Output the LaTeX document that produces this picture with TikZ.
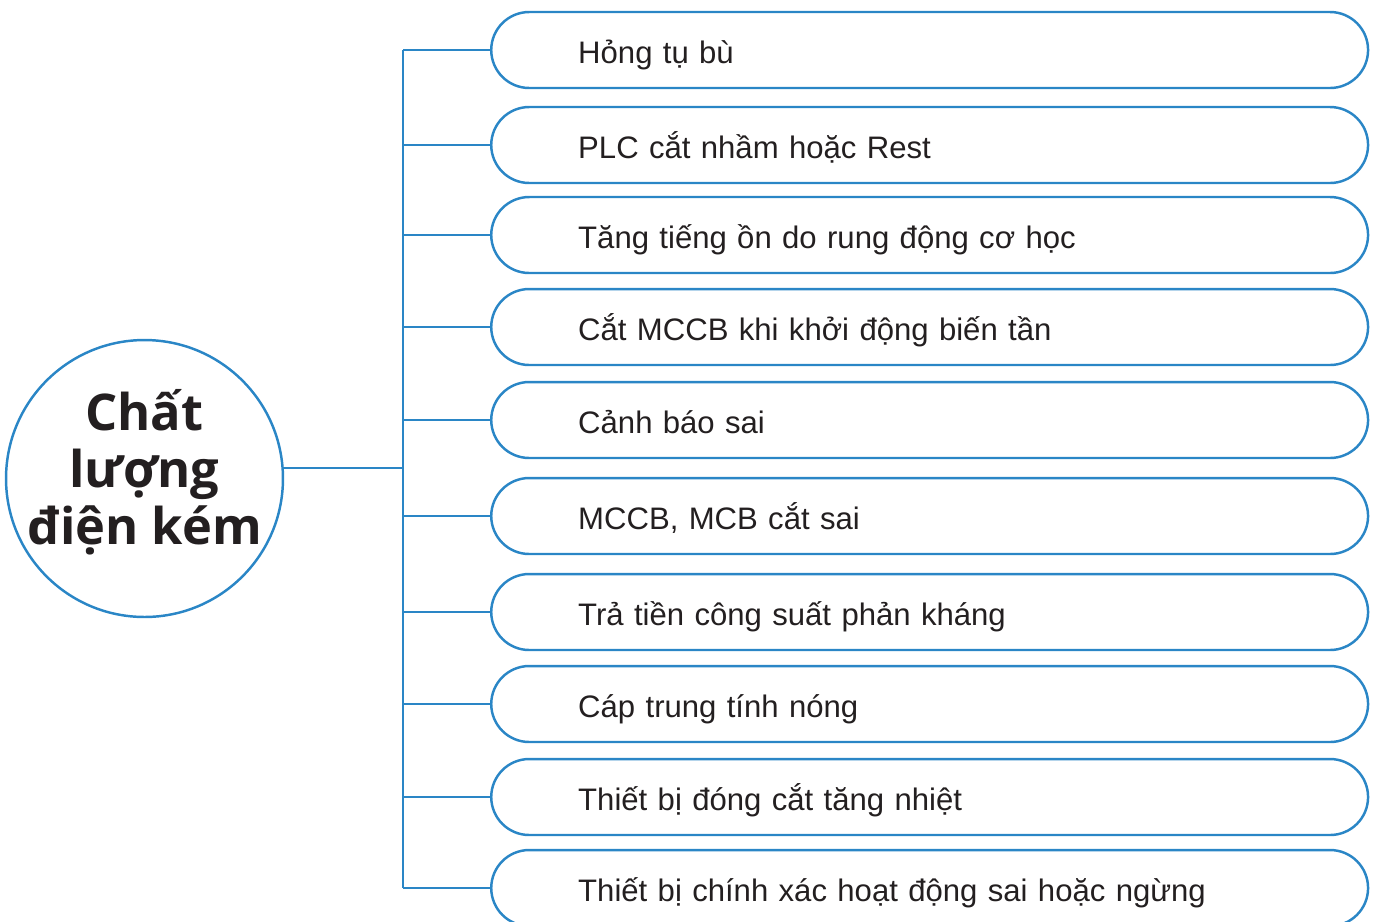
\documentclass[tikz,border=0pt]{standalone}
\usepackage{fontspec}
\setmainfont{Liberation Sans}
\newfontfamily\hubfont{Open Sans}
\usepackage{tikz}
\usetikzlibrary{positioning,calc}
\definecolor{lineblue}{RGB}{42,134,198}
\definecolor{inkdark}{RGB}{35,31,32}

\begin{document}
\begin{tikzpicture}[x=0.02cm,y=-0.02cm,
                    line width=1.4pt,
                    hub node/.style={circle,draw=lineblue,minimum size=5.54cm,inner sep=0pt},
                    hub text/.style={align=center,text=inkdark,text depth=0.45cm,inner sep=0pt,
                                     font=\hubfont\bfseries\fontsize{28.8}{32.4}\selectfont},
                    item node/.style={draw=lineblue,rounded corners=0.76cm,anchor=west,
                                      minimum height=1.52cm,inner xsep=1.74cm,inner ysep=0pt,
                                      text width=14.06cm,text height=0.7cm,text depth=0.16cm,
                                      align=left,text=inkdark,
                                      font=\fontsize{17.7}{21}\selectfont}
                   ]
  \useasboundingbox (0,0) rectangle (1381,921);
  \node[hub node] (root) at (144.5,478.5) {};
  \node[hub text] (roottext) at (root.center) {Chất\\lượng\\điện kém};
  \coordinate (spine) at (403,468);
  \node[item node] (b1) at (490,50) {Hỏng tụ bù};
  \node[item node] (b2) at (490,145) {PLC cắt nhầm hoặc Rest};
  \node[item node] (b3) at (490,235) {Tăng tiếng ồn do rung động cơ học};
  \node[item node] (b4) at (490,327) {Cắt MCCB khi khởi động biến tần};
  \node[item node] (b5) at (490,420) {Cảnh báo sai};
  \node[item node] (b6) at (490,516) {MCCB, MCB cắt sai};
  \node[item node] (b7) at (490,612) {Trả tiền công suất phản kháng};
  \node[item node] (b8) at (490,704) {Cáp trung tính nóng};
  \node[item node] (b9) at (490,797) {Thiết bị đóng cắt tăng nhiệt};
  \node[item node] (b10) at (490,888) {Thiết bị chính xác hoạt động sai hoặc ngừng};
  \draw[lineblue] (root.east |- spine) -- (spine);
  \draw[lineblue] (b1.west -| spine) -- (b10.west -| spine);
  \path[draw=lineblue]%
    (b1.west -| spine) edge (b1.west)
    (b2.west -| spine) edge (b2.west)
    (b3.west -| spine) edge (b3.west)
    (b4.west -| spine) edge (b4.west)
    (b5.west -| spine) edge (b5.west)
    (b6.west -| spine) edge (b6.west)
    (b7.west -| spine) edge (b7.west)
    (b8.west -| spine) edge (b8.west)
    (b9.west -| spine) edge (b9.west)
    (b10.west -| spine) edge (b10.west);
\end{tikzpicture}
\end{document}
